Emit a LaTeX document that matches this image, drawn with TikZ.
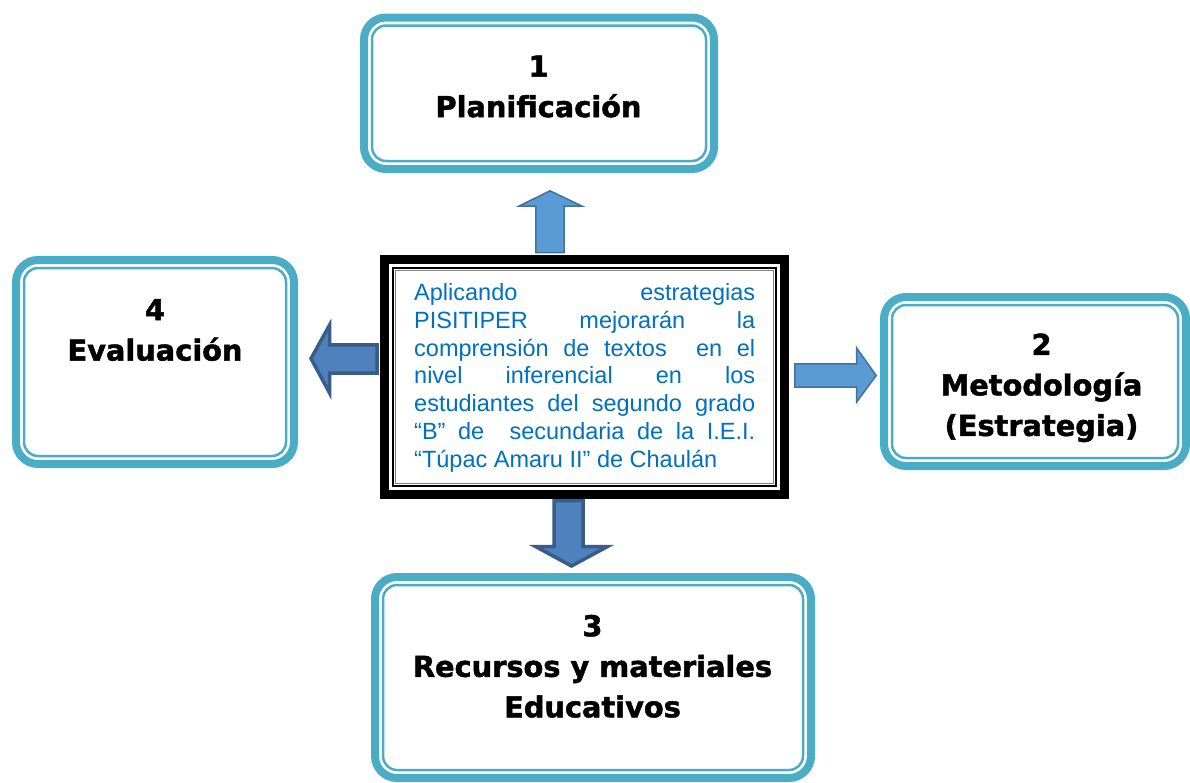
\documentclass[tikz,border=0pt]{standalone}
\usepackage{fontspec}
\setmainfont{Liberation Sans}
\newfontfamily\boxfont{DejaVu Sans}[BoldFeatures={FakeBold=1.6}]
\definecolor{tealb}{HTML}{4BACC6}
\definecolor{txtblue}{HTML}{0070C0}
\definecolor{arrlf}{HTML}{5B9BD5}
\definecolor{arrld}{HTML}{41719C}
\definecolor{arrdf}{HTML}{4F81BD}
\definecolor{arrdd}{HTML}{385D8A}
\tikzset{
  tealbox/.style={draw=tealb, line width=8pt, rounded corners=22pt, outer sep=0pt, inner sep=0pt, fill=white},
  tealthin/.style={draw=tealb, line width=2.5pt, rounded corners=14pt},
  boxtext/.style={align=center, inner sep=0pt, font=\boxfont\bfseries\fontsize{28.8}{40.5}\selectfont},
  framebox/.style={draw=black, line width=8.5pt, outer sep=0pt, inner sep=0pt, fill=white},
  lightarrow/.style={fill=arrlf, draw=arrld, line width=1.5pt, line join=miter},
  darkarrow/.style={fill=arrdf, draw=arrdd, line width=3.5pt, line join=miter}
}
\begin{document}
\begin{tikzpicture}[x=1pt,y=-1pt]
\useasboundingbox[fill=white] (0,0) rectangle (1190,782);
% boxes
\node[tealbox, minimum width=350pt, minimum height=151.5pt] (b1) at (539,93.25) {};
\node[tealbox, minimum width=302pt, minimum height=169pt] (b2) at (1035,381.5) {};
\node[tealbox, minimum width=436pt, minimum height=201pt] (b3) at (593,677.5) {};
\node[tealbox, minimum width=278pt, minimum height=204pt] (b4) at (155,362) {};
\foreach \b in {b1,b2,b3,b4}{
  \draw[tealthin] ([shift={(8,8)}]\b.north west) rectangle ([shift={(-8,-8)}]\b.south east);
}
% center frame
\node[framebox, minimum width=399.75pt, minimum height=235.25pt] (c) at (584.4,377.1) {};
\draw[black, line width=1.8pt] ([shift={(8.6,8.6)}]c.north west) rectangle ([shift={(-8.6,-8.6)}]c.south east);
\draw[gray, line width=0.8pt] ([shift={(11,11)}]c.north west) rectangle ([shift={(-11,-11)}]c.south east);
\node[anchor=north west, inner sep=0pt, text width=341pt, align=justify,
      font=\fontsize{23.5}{27.8}\selectfont, text=txtblue] (ct) at (414,283.2)
  {Aplicando estrategias\linebreak
   PISITIPER mejorarán la\linebreak
   comprensión de textos\ \ en el\linebreak
   nivel inferencial en los\linebreak
   estudiantes del segundo grado\linebreak
   “B” de\ \ secundaria de la I.E.I.\linebreak
   “Túpac Amaru II” de Chaulán\par};
% texts
\node[boxtext] (t1) at (538.5,86.5) {1\\Planificación};
\node[boxtext] (t2) at (1041.5,387.8) {2\\Metodología\\(Estrategia)};
\node[boxtext] (t3) at (592.5,666.3) {3\\Recursos y materiales\\Educativos};
\node[boxtext] (t4) at (155,330) {4\\Evaluación};
% arrows
\draw[lightarrow] (550,190.8) -- (582.2,206.2) -- (564.2,206.2) -- (564.2,252.5)
  -- (535.8,252.5) -- (535.8,206.2) -- (518.8,206.2) -- cycle;
\draw[lightarrow] (794.8,363.8) -- (856.5,363.8) -- (856.5,347.8) -- (876.2,375.5)
  -- (856.5,402.2) -- (856.5,387.2) -- (794.8,387.2) -- cycle;
\draw[darkarrow] (311,358.5) -- (329.7,324.8) -- (329.7,344.8) -- (377,344.8)
  -- (377,373.2) -- (329.7,373.2) -- (329.7,393.2) -- cycle;
\draw[darkarrow] (554,500.5) -- (583,500.5) -- (583,546.5) -- (607.5,546.5)
  -- (571.5,566) -- (535.5,546.5) -- (554,546.5) -- cycle;
\end{tikzpicture}
\end{document}
